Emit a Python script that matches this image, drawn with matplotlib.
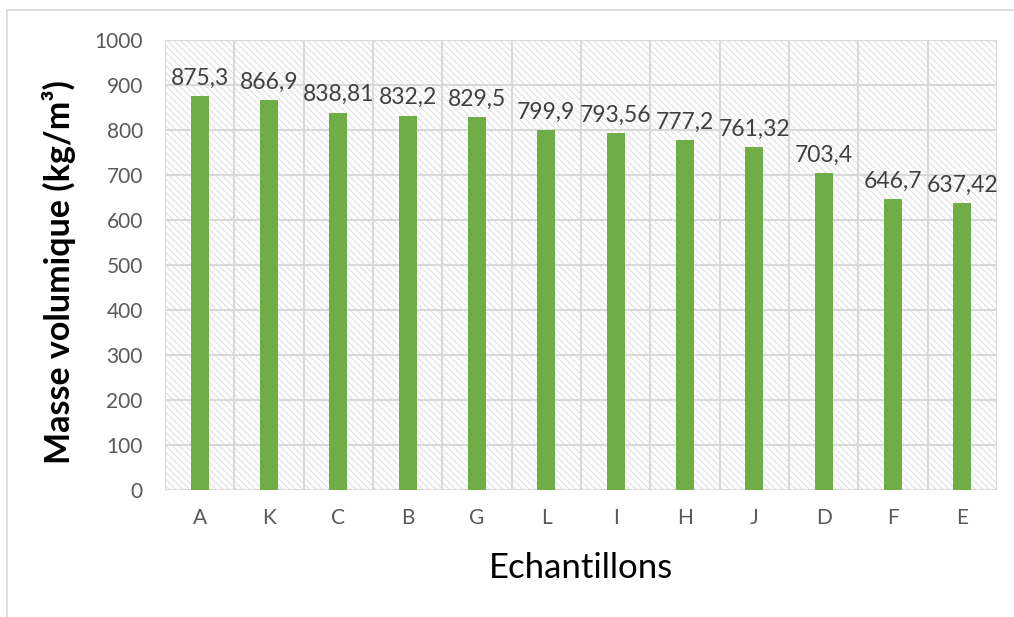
import matplotlib
matplotlib.use("Agg")
import matplotlib.pyplot as plt
from matplotlib.patches import Rectangle

categories = ["A", "K", "C", "B", "G", "L", "I", "H", "J", "D", "F", "E"]
values = [875.3, 866.9, 838.81, 832.2, 829.5, 799.9, 793.56, 777.2, 761.32, 703.4, 646.7, 637.42]
labels = ["875,3", "866,9", "838,81", "832,2", "829,5", "799,9", "793,56", "777,2", "761,32", "703,4", "646,7", "637,42"]
yticks = [0, 100, 200, 300, 400, 500, 600, 700, 800, 900, 1000]

plt.rcParams['font.family'] = ['Lato', 'DejaVu Sans']
plt.rcParams['hatch.linewidth'] = 0.7
plt.rcParams['hatch.color'] = '#DCDCDC'

fig = plt.figure(figsize=(10.14, 6.17), dpi=100)
fig.patch.set_facecolor('white')
ax = fig.add_axes([165/1014, 1 - 490/617, (997 - 165)/1014, 450/617])

n = len(categories)
ax.set_xlim(-0.5, n - 0.5)
ax.set_ylim(0, 1000)

# hatched background
bg = Rectangle((0, 0), 1, 1, transform=ax.transAxes, facecolor='white',
               edgecolor='#DCDCDC', hatch='\\' * 5, linewidth=0, zorder=0)
ax.add_patch(bg)

# grid
for y in yticks:
    ax.axhline(y, color='#D9D9D9', lw=1.5, zorder=1)
for i in range(n + 1):
    ax.axvline(i - 0.5, color='#D9D9D9', lw=1.5, zorder=1)

x = list(range(n))
ax.bar(x, values, width=0.26, color='#70AD47', zorder=3)
for xi, v, lab in zip(x, values, labels):
    ax.text(xi, v + 16, lab, ha='center', va='bottom', fontsize=16.5, color='#404040', zorder=4)

ax.set_xticks(x)
ax.set_xticklabels(categories, fontsize=15, color='#595959')
ax.set_yticks(yticks)
ax.set_yticklabels([str(t) for t in yticks], fontsize=15, color='#595959')
ax.tick_params(length=0)
ax.tick_params(axis='x', pad=13)
ax.tick_params(axis='y', pad=16)
for s in ax.spines.values():
    s.set_visible(False)

ax.set_xlabel("Echantillons", fontsize=25, color='black', labelpad=17)
ax.set_ylabel("Masse volumique (kg/m³)", fontsize=24.5, fontweight='bold', color='black', labelpad=13)
ax.yaxis.label.set_y(0.484)

# outer frame
fig.add_artist(plt.Line2D([7/1014, 7/1014], [0, 1 - 10/617], transform=fig.transFigure, color='#D9D9D9', lw=1.2))
fig.add_artist(plt.Line2D([7/1014, 1], [1 - 10/617, 1 - 10/617], transform=fig.transFigure, color='#D9D9D9', lw=1.2))

fig.savefig("out.png", dpi=100, facecolor='white')
